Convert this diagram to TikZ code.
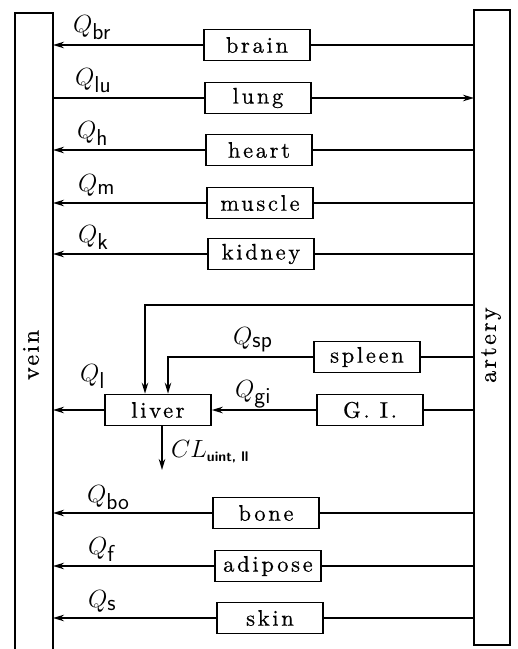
\documentclass[tikz,border=0pt]{standalone}
\usepackage{fontspec}
\usetikzlibrary{arrows.meta}
\newfontfamily\organfont{lmroman10-regular}[Extension=.otf, LetterSpace=12, FakeBold=0.6]
\newfontfamily\vesselfont{lmroman10-regular}[Extension=.otf, LetterSpace=10, FakeBold=0.6]
\newcommand{\sub}[1]{\textsf{#1}}
\tikzset{
  organ/.style={draw, line width=1.6pt, minimum width=106pt, minimum height=31pt,
    inner sep=0pt, font=\organfont\fontsize{22.5}{26}\selectfont},
  flow/.style={line width=1.6pt},
  tip/.style={-{Stealth[length=11pt,width=6.5pt]}},
  qlab/.style={anchor=base west, inner sep=0pt, font=\fontsize{23}{27}\selectfont},
  vessel/.style={line width=1.7pt},
  vlab/.style={rotate=90, font=\vesselfont\fontsize{24}{28}\selectfont}
}
\begin{document}
\begin{tikzpicture}[x=1pt,y=-1pt]
\useasboundingbox (0,0) rectangle (518,649);

% vessels
\draw[vessel] (15,649) -- (15,13) -- (53,13) -- (53,649);
\draw[vessel] (474,10) rectangle (510,645);
\node[vlab] (veinlab) at (31,355) {vein};
\node[vlab] (artlab) at (491,345) {artery};

% connection points on the vessel walls
\foreach \n/\y in {br/45,lu/98,h/150,m/203,k/254,sp/357,gi/410,l/410,bo/513,f/566,s/618,top/305}{
  \coordinate (v\n) at (53,\y);
  \coordinate (a\n) at (474,\y);
}

% organs
\node[organ] (brain)   at (257,45)  {brain};
\node[organ] (lung)    at (258,98)  {lung};
\node[organ] (heart)   at (259,150) {heart};
\node[organ] (muscle)  at (260,203) {muscle};
\node[organ] (kidney)  at (261,254) {kidney};
\node[organ] (spleen)  at (367,357) {spleen};
\node[organ] (gi)      at (370,410) {G. I.};
\node[organ] (liver)   at (158,410) {liver};
\node[organ] (bone)    at (266,513) {bone};
\node[organ] (adipose) at (268,566) {adipose};
\node[organ] (skin)    at (270,618) {skin};

% artery -> organ -> vein
\foreach \o/\n in {brain/br,heart/h,muscle/m,kidney/k,bone/bo,adipose/f,skin/s}{
  \draw[flow] (a\n) -- (\o.east);
  \draw[flow,tip] (\o.west) -- (v\n);
}
% pulmonary circuit runs the other way
\draw[flow] (vlu) -- (lung.west);
\draw[flow,tip] (lung.east) -- (alu);

% splanchnic circuit
\coordinate (hepa) at (145,305);
\coordinate (spc) at (168,357);
\draw[flow] (asp) -- (spleen.east);
\draw[flow] (agi) -- (gi.east);
\draw[flow,tip] (atop) -- (hepa) -- (hepa |- liver.north);
\draw[flow,tip] (spleen.west) -- (spc) -- (spc |- liver.north);
\draw[flow,tip] (gi.west) -- (liver.east);
\draw[flow,tip] (liver.west) -- (vl);
\coordinate (clend) at (162,470);
\draw[flow,tip] (clend |- liver.south) -- (clend);

% flow labels
\node[qlab] (qbr) at (73,32)  {$Q_{\sub{br}}$};
\node[qlab] (qlu) at (75,85)  {$Q_{\sub{lu}}$};
\node[qlab] (qh)  at (77,138) {$Q_{\sub{h}}$};
\node[qlab] (qm)  at (78,191) {$Q_{\sub{m}}$};
\node[qlab] (qk)  at (78,242) {$Q_{\sub{k}}$};
\node[qlab] (qsp) at (233,344) {$Q_{\sub{sp}}$};
\node[qlab] (qgi) at (235,397) {$Q_{\sub{gi}}$};
\node[qlab] (ql)  at (80,381) {$Q_{\sub{l}}$};
\node[qlab] (qbo) at (87,502) {$Q_{\sub{bo}}$};
\node[qlab] (qf)  at (88,554) {$Q_{\sub{f}}$};
\node[qlab] (qs)  at (88,607) {$Q_{\sub{s}}$};
\node[qlab, font=\fontsize{27}{30}\selectfont] (cl) at (171,457)
  {$CL$\raisebox{-4pt}{\fontsize{14}{16}\selectfont\sffamily\bfseries uint, ll}};
\end{tikzpicture}
\end{document}
